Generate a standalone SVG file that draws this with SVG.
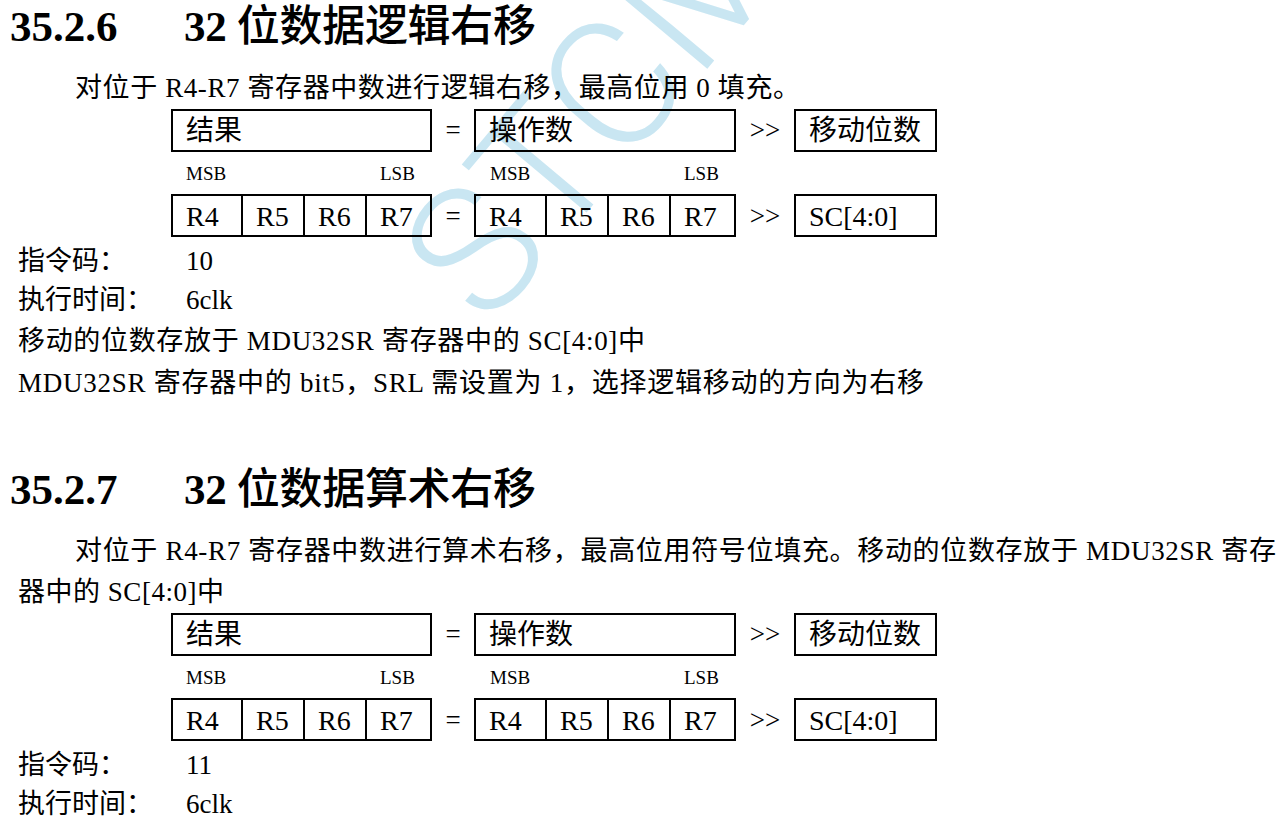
<svg xmlns="http://www.w3.org/2000/svg" width="1278" height="820" viewBox="0 0 1278 820">
<style>
.bg{fill:#ffffff}
.wm{font-family:Roboto,"Liberation Sans",sans-serif;font-weight:300;font-size:178px;fill:#c9e6f2}
.h{font-family:"Liberation Serif","Noto Sans CJK SC",serif;font-size:43px;font-weight:700;fill:#000}
.hc{font-weight:500}
.t{font-family:"Liberation Serif","Noto Sans CJK SC",serif;font-size:27px;fill:#000}
.bx{fill:none;stroke:#000;stroke-width:2}
.bl{font-family:"Liberation Serif","Noto Sans CJK SC",serif;font-size:28px;fill:#000}
.sm{font-family:"Liberation Serif",serif;font-size:19px;fill:#000}
.op{font-family:"Liberation Serif",serif;font-size:27px;fill:#000;text-anchor:middle}
</style>
<rect class="bg" x="0" y="0" width="1278" height="820"/>
<text class="wm" transform="translate(488,330) rotate(-50)">STCMCU</text>

<g id="section1-heading">
<text class="h" x="10" y="41">35.2.6</text>
<text class="h" x="184" y="41" textLength="352">32 <tspan class="hc">位数据逻辑右移</tspan></text>
</g>
<g id="section1-text">
<text class="t" x="75" y="97" textLength="725">对位于 R4-R7 寄存器中数进行逻辑右移，最高位用 0 填充。</text>
</g>

<g id="s1-row1">
<g id="s1-result"><rect class="bx" x="172" y="110" width="259" height="41"/><text class="bl" x="186" y="140">结果</text></g>
<text class="op" x="453" y="139">=</text>
<g id="s1-operand"><rect class="bx" x="475" y="110" width="260" height="41"/><text class="bl" x="489" y="140">操作数</text></g>
<text class="op" x="765" y="139">&gt;&gt;</text>
<g id="s1-shift"><rect class="bx" x="795" y="110" width="141" height="41"/><text class="bl" x="809" y="140">移动位数</text></g>
</g>
<g id="s1-labels">
<text class="sm" x="186" y="180">MSB</text><text class="sm" x="380" y="180">LSB</text>
<text class="sm" x="490" y="180">MSB</text><text class="sm" x="684" y="180">LSB</text>
</g>
<g id="s1-row2">
<g id="s1-dst"><rect class="bx" x="172" y="195" width="259" height="41"/>
<line class="bx" x1="242" y1="195" x2="242" y2="236"/><line class="bx" x1="304" y1="195" x2="304" y2="236"/><line class="bx" x1="366" y1="195" x2="366" y2="236"/>
<text class="bl" x="186" y="226">R4</text><text class="bl" x="256" y="226">R5</text><text class="bl" x="318" y="226">R6</text><text class="bl" x="380" y="226">R7</text></g>
<text class="op" x="453" y="225">=</text>
<g id="s1-src"><rect class="bx" x="475" y="195" width="260" height="41"/>
<line class="bx" x1="546" y1="195" x2="546" y2="236"/><line class="bx" x1="608" y1="195" x2="608" y2="236"/><line class="bx" x1="670" y1="195" x2="670" y2="236"/>
<text class="bl" x="489" y="226">R4</text><text class="bl" x="560" y="226">R5</text><text class="bl" x="622" y="226">R6</text><text class="bl" x="684" y="226">R7</text></g>
<text class="op" x="765" y="225">&gt;&gt;</text>
<g id="s1-sc"><rect class="bx" x="795" y="195" width="141" height="41"/><text class="bl" x="809" y="226">SC[4:0]</text></g>
</g>
<g id="section1-info">
<text class="t" x="18" y="270">指令码：</text><text class="t" x="186" y="270">10</text>
<text class="t" x="18" y="309">执行时间：</text><text class="t" x="186" y="309">6clk</text>
<text class="t" x="18" y="350" textLength="627">移动的位数存放于 MDU32SR 寄存器中的 SC[4:0]中</text>
<text class="t" x="18" y="392" textLength="906">MDU32SR 寄存器中的 bit5，SRL 需设置为 1，选择逻辑移动的方向为右移</text>
</g>

<g id="section2-heading">
<text class="h" x="10" y="504">35.2.7</text>
<text class="h" x="184" y="504" textLength="352">32 <tspan class="hc">位数据算术右移</tspan></text>
</g>
<g id="section2-text">
<text class="t" x="75" y="560" textLength="1201">对位于 R4-R7 寄存器中数进行算术右移，最高位用符号位填充。移动的位数存放于 MDU32SR 寄存</text>
<text class="t" x="18" y="601" textLength="206">器中的 SC[4:0]中</text>
</g>

<g id="s2-row1">
<g id="s2-result"><rect class="bx" x="172" y="614" width="259" height="41"/><text class="bl" x="186" y="644">结果</text></g>
<text class="op" x="453" y="643">=</text>
<g id="s2-operand"><rect class="bx" x="475" y="614" width="260" height="41"/><text class="bl" x="489" y="644">操作数</text></g>
<text class="op" x="765" y="643">&gt;&gt;</text>
<g id="s2-shift"><rect class="bx" x="795" y="614" width="141" height="41"/><text class="bl" x="809" y="644">移动位数</text></g>
</g>
<g id="s2-labels">
<text class="sm" x="186" y="684">MSB</text><text class="sm" x="380" y="684">LSB</text>
<text class="sm" x="490" y="684">MSB</text><text class="sm" x="684" y="684">LSB</text>
</g>
<g id="s2-row2">
<g id="s2-dst"><rect class="bx" x="172" y="699" width="259" height="41"/>
<line class="bx" x1="242" y1="699" x2="242" y2="740"/><line class="bx" x1="304" y1="699" x2="304" y2="740"/><line class="bx" x1="366" y1="699" x2="366" y2="740"/>
<text class="bl" x="186" y="730">R4</text><text class="bl" x="256" y="730">R5</text><text class="bl" x="318" y="730">R6</text><text class="bl" x="380" y="730">R7</text></g>
<text class="op" x="453" y="729">=</text>
<g id="s2-src"><rect class="bx" x="475" y="699" width="260" height="41"/>
<line class="bx" x1="546" y1="699" x2="546" y2="740"/><line class="bx" x1="608" y1="699" x2="608" y2="740"/><line class="bx" x1="670" y1="699" x2="670" y2="740"/>
<text class="bl" x="489" y="730">R4</text><text class="bl" x="560" y="730">R5</text><text class="bl" x="622" y="730">R6</text><text class="bl" x="684" y="730">R7</text></g>
<text class="op" x="765" y="729">&gt;&gt;</text>
<g id="s2-sc"><rect class="bx" x="795" y="699" width="141" height="41"/><text class="bl" x="809" y="730">SC[4:0]</text></g>
</g>
<g id="section2-info">
<text class="t" x="18" y="774">指令码：</text><text class="t" x="186" y="774">11</text>
<text class="t" x="18" y="813">执行时间：</text><text class="t" x="186" y="813">6clk</text>
</g>
<g id="connectors"/>
</svg>
